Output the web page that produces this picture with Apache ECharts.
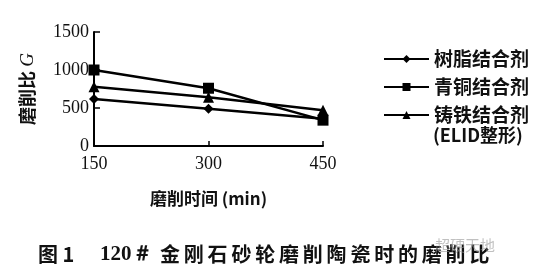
<!DOCTYPE html>
<html>
<head>
<meta charset="utf-8">
<script src="https://cdn.jsdelivr.net/npm/echarts@6/dist/echarts.min.js"></script>
<style>html,body{margin:0;padding:0;background:#fff;}#c{width:537px;height:269px;}</style>
</head>
<body>
<div id="c"></div>
<script>
var timesMin = [150, 300, 450];
var resinBond = [620, 490, 360];
var bronzeBond = [1000, 760, 340];
var castIronBond = [780, 640, 470];
var seriesNames = ['树脂结合剂', '青铜结合剂', '铸铁结合剂'];
var yTicks = [0, 500, 1000, 1500];
var xTitle = '磨削时间 (min)';
var yTitle = '磨削比';
var caption1 = '图 1';
var caption2 = '120＃';
var caption3 = '金刚石砂轮磨削陶瓷时的磨削比';

var chart = echarts.init(document.getElementById('c'), null, {renderer: 'canvas'});
function pairs(vals){ return timesMin.map(function(t,i){ return [t, vals[i]]; }); }
var lineStyle = {color:'#000', width:2.5};
function mk(name, vals, symbol, size){
  return {name:name, type:'line', data:pairs(vals), symbol:symbol, symbolSize:size,
    itemStyle:{color:'#000'}, lineStyle:lineStyle, animation:false};
}
var capGraphics = [];
capGraphics.push({type:'text', left:38, top:244, style:{text:caption1, font:'bold 20px "Noto Sans CJK SC"', fill:'#111'}});
capGraphics.push({type:'text', left:100, top:244, style:{text:caption2, font:'bold 21px "Liberation Serif"', fill:'#111'}});
for (var i=0;i<caption3.length;i++){
  capGraphics.push({type:'text', left:160+i*23.8, top:244, style:{text:caption3[i], font:'bold 20px "Noto Sans CJK SC"', fill:'#111'}});
}
capGraphics.push({type:'text', left:435, top:238, style:{text:'超硬天地', font:'15px "Noto Sans CJK SC"', fill:'rgba(150,150,150,0.6)'}});
capGraphics.push({type:'text', left:433, top:126, style:{text:'(ELID整形)', font:'bold 18px "Noto Sans CJK SC"', fill:'#111'}});

chart.setOption({
  animation:false,
  backgroundColor:'#fff',
  grid:{left:94, right:214, top:32, bottom:123},
  legend:{
    orient:'vertical', left:378, top:44, itemWidth:45, itemHeight:10, itemGap:8,
    data:seriesNames,
    textStyle:{fontSize:19, fontWeight:'bold', fontFamily:'Noto Sans CJK SC', color:'#111', lineHeight:20}
  },
  xAxis:{
    type:'value', min:150, max:450, interval:150,
    name:xTitle, nameLocation:'middle', nameGap:44,
    nameTextStyle:{fontSize:17, fontWeight:'bold', fontFamily:'Noto Sans CJK SC', color:'#111'},
    axisLine:{lineStyle:{color:'#000', width:2}},
    axisTick:{inside:true, length:5, lineStyle:{color:'#000', width:1.5}},
    axisLabel:{fontSize:18, fontFamily:'Liberation Serif', color:'#111', margin:9},
    splitLine:{show:false}
  },
  yAxis:{
    type:'value', min:yTicks[0], max:yTicks[yTicks.length-1], interval:500,
    name:'{a|'+yTitle+' }{b|G}', nameLocation:'middle', nameGap:57, nameRotate:90,
    nameTextStyle:{rich:{a:{fontSize:18, fontWeight:'bold', fontFamily:'Noto Sans CJK SC', color:'#111'},
                         b:{fontSize:19, fontStyle:'italic', fontFamily:'Liberation Serif', color:'#111'}}},
    axisLine:{show:true, lineStyle:{color:'#000', width:2}},
    axisTick:{show:true, inside:true, length:6, lineStyle:{color:'#000', width:1.5}},
    axisLabel:{fontSize:18, fontFamily:'Liberation Serif', color:'#111', margin:5,
      formatter:function(v){ return String(v); }},
    splitLine:{show:false}
  },
  series:[
    mk(seriesNames[0], resinBond, 'diamond', 10),
    mk(seriesNames[1], bronzeBond, 'rect', 11),
    mk(seriesNames[2], castIronBond, 'triangle', 11)
  ],
  graphic:capGraphics
});
</script>
</body>
</html>
